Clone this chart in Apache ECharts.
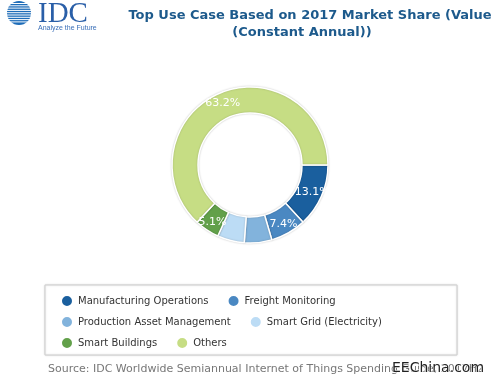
<!DOCTYPE html>
<html><head><meta charset="utf-8">
<script src="https://cdn.jsdelivr.net/npm/echarts@6/dist/echarts.min.js"></script>
<style>html,body{margin:0;padding:0;background:#fff}#c{width:500px;height:382px}</style>
</head><body><div id="c"></div>
<script>
const categories = ['Manufacturing Operations','Freight Monitoring','Production Asset Management','Smart Grid (Electricity)','Smart Buildings','Others'];
const shares = [13.1, 7.4, 5.7, 5.6, 5.1, 63.2];
const colors = ['#1a5f9e','#4a88c2','#82b3dc','#bcdcf5','#62a04a','#c6dd84'];
const titleLines = ['Top Use Case Based on 2017 Market Share (Value', '(Constant Annual))'];
const sourceText = 'Source: IDC Worldwide Semiannual Internet of Things Spending Guide, 2017H2';

const chart = echarts.init(document.getElementById('c'));
const logoStripes = [];
for (let i = 0; i < 9; i++) {
  logoStripes.push({type:'rect', shape:{x:4, y:3 + i*2.3, width:30, height:1}, style:{fill:'#ffffff'}, z:12});
}
const legendRow = (items, top) => ({
  left: 55, top: top, itemGap: 18, orient:'horizontal',
  icon: 'circle', itemWidth: 12, itemHeight: 12,
  textStyle: {fontFamily:'DejaVu Sans', fontSize: 10, color:'#333'},
  data: items
});
chart.setOption({
  animation:false,
  color: colors,
  legend: [
    legendRow(categories.slice(0,2), 289),
    legendRow(categories.slice(2,4), 310),
    legendRow(categories.slice(4,6), 331)
  ],
  graphic: [
    {type:'rect', shape:{x:45, y:285, width:412, height:70}, style:{fill:'#fff', stroke:'#cfcfcf', lineWidth:1, shadowBlur:2, shadowColor:'rgba(0,0,0,0.15)'}, z:-1},
    {type:'text', x:310, y:9, style:{text:titleLines[0], textAlign:'center', fontFamily:'DejaVu Sans', fontWeight:'bold', fontSize:13, fill:'#1d5a8c'}},
    {type:'text', x:302, y:26, style:{text:titleLines[1], textAlign:'center', fontFamily:'DejaVu Sans', fontWeight:'bold', fontSize:13, fill:'#1d5a8c'}},
    {type:'circle', shape:{cx:19, cy:13, r:12}, style:{fill:'#1d6cb8'}, z:11},
    ...logoStripes,
    {type:'text', x:38, y:0, style:{text:'IDC', fontFamily:'Liberation Serif', fontSize:29, fill:'#2a5fa8'}},
    {type:'text', x:38, y:25, style:{text:'Analyze the Future', fontFamily:'Liberation Sans', fontSize:7, fill:'#3a6fb8'}},
    {type:'text', x:48, y:364, style:{text:sourceText, fontFamily:'DejaVu Sans', fontSize:11, fill:'#777'}},
    {type:'text', x:392, y:361, style:{text:'EEChina.com', fontFamily:'DejaVu Sans', fontSize:14, fill:'#222', stroke:'#fff', lineWidth:1}, z:20}
  ],
  series: [{
    type:'pie',
    center:[250,165],
    radius:[52,78],
    startAngle:0,
    clockwise:true,
    label:{show:true, position:'inside', formatter: p => p.value.toFixed(1) + '%', color:'#fff', fontFamily:'DejaVu Sans', fontSize:11},
    labelLine:{show:false},
    itemStyle:{borderColor:'#fff', borderWidth:1.5, shadowBlur:2, shadowColor:'rgba(0,0,0,0.2)'},
    data: categories.map((c,i)=>({name:c, value:shares[i]}))
  }]
});
</script></body></html>
